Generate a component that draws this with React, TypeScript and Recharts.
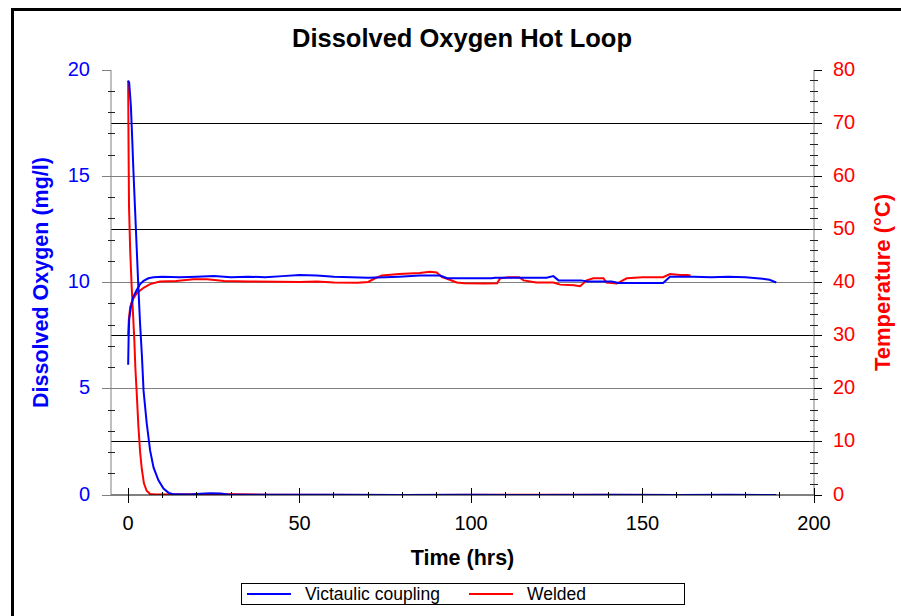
import React from 'react';
import { ComposedChart, Line, XAxis, YAxis, ReferenceLine, Legend, Label } from 'recharts';

const BLUE = '#0000FF';
const RED = '#FF0000';
const GRAY = '#808080';
const FONT = '"Liberation Sans", Arial, Helvetica, sans-serif';

const TITLE = 'Dissolved Oxygen Hot Loop';
const legendNames = ['Victaulic coupling', 'Welded'];

// Time ticks (hrs)
const timeTicks = [0, 10, 20, 30, 40, 50, 60, 70, 80, 90, 100, 110, 120, 130, 140, 150, 160, 170, 180, 190, 200];
const timeLabels = [0, 50, 100, 150, 200];
// Dissolved oxygen ticks (mg/l)
const doTicks = [0, 1, 2, 3, 4, 5, 6, 7, 8, 9, 10, 11, 12, 13, 14, 15, 16, 17, 18, 19, 20];
const doLabels = [0, 5, 10, 15, 20];
// Temperature ticks (°C)
const tempTicks = [0, 2, 4, 6, 8, 10, 12, 14, 16, 18, 20, 22, 24, 26, 28, 30, 32, 34, 36, 38, 40, 42, 44, 46, 48, 50, 52, 54, 56, 58, 60, 62, 64, 66, 68, 70, 72, 74, 76, 78, 80];
const tempLabels = [0, 10, 20, 30, 40, 50, 60, 70, 80];
// Horizontal grid lines (left axis units)
const blackGrid = [2.5, 7.5, 12.5, 17.5];
const grayGrid = [5, 10, 15];

// Victaulic coupling - dissolved oxygen (mg/l)
const victaulicDO = [
  { t: 0, v: 19.5 }, { t: 0.3, v: 19.4 }, { t: 0.8, v: 18.3 }, { t: 1.2, v: 16.7 }, { t: 1.5, v: 15.4 },
  { t: 2.0, v: 13.5 }, { t: 2.5, v: 11.6 }, { t: 3.0, v: 9.7 }, { t: 3.5, v: 8.0 }, { t: 4.0, v: 6.6 },
  { t: 4.5, v: 4.9 }, { t: 5.4, v: 3.4 }, { t: 6.4, v: 2.1 }, { t: 7.4, v: 1.3 }, { t: 8.8, v: 0.7 },
  { t: 10.3, v: 0.3 }, { t: 11.8, v: 0.1 }, { t: 13.5, v: 0.03 }, { t: 18, v: 0.02 }, { t: 21, v: 0.06 },
  { t: 24, v: 0.08 }, { t: 27, v: 0.07 }, { t: 29, v: 0.02 }, { t: 40, v: 0.01 }, { t: 60, v: 0.01 },
  { t: 80, v: 0.0 }, { t: 100, v: 0.01 }, { t: 120, v: 0.0 }, { t: 140, v: 0.01 }, { t: 160, v: 0.0 },
  { t: 175, v: 0.01 }, { t: 189, v: 0.0 },
];

// Welded - dissolved oxygen (mg/l)
const weldedDO = [
  { t: 0, v: 19.5 }, { t: 0.1, v: 16.8 }, { t: 0.25, v: 13.6 }, { t: 0.6, v: 11.5 }, { t: 1.0, v: 9.9 },
  { t: 1.4, v: 8.6 }, { t: 1.8, v: 7.3 }, { t: 2.1, v: 6.0 }, { t: 2.5, v: 4.8 }, { t: 3.0, v: 3.2 },
  { t: 3.5, v: 2.0 }, { t: 4.0, v: 1.2 }, { t: 4.6, v: 0.55 }, { t: 5.4, v: 0.2 }, { t: 6.4, v: 0.05 },
  { t: 8, v: 0.02 }, { t: 20, v: 0.04 }, { t: 26, v: 0.05 }, { t: 40, v: 0.01 }, { t: 80, v: 0.0 },
  { t: 120, v: 0.01 }, { t: 164, v: 0.0 },
];

// Victaulic coupling - temperature (°C)
const victaulicTemp = [
  { t: 0, v: 24.5 }, { t: 0.15, v: 30 }, { t: 0.3, v: 33 }, { t: 0.8, v: 35.4 }, { t: 1.5, v: 37.3 },
  { t: 2.5, v: 38.6 }, { t: 3.5, v: 39.7 }, { t: 4.5, v: 40.3 }, { t: 5.9, v: 40.8 }, { t: 7.4, v: 41.0 },
  { t: 10, v: 41.1 }, { t: 15, v: 41.0 }, { t: 20, v: 41.1 }, { t: 25, v: 41.2 }, { t: 30, v: 41.0 },
  { t: 35, v: 41.1 }, { t: 40, v: 41.0 }, { t: 45, v: 41.2 }, { t: 50, v: 41.4 }, { t: 55, v: 41.3 },
  { t: 60, v: 41.1 }, { t: 65, v: 41.0 }, { t: 70, v: 40.9 }, { t: 75, v: 41.0 }, { t: 79, v: 41.1 },
  { t: 85, v: 41.3 }, { t: 91, v: 41.3 }, { t: 93, v: 40.8 }, { t: 100, v: 40.8 }, { t: 106, v: 40.8 },
  { t: 107, v: 40.9 }, { t: 115, v: 40.9 }, { t: 122, v: 40.9 }, { t: 124, v: 41.2 }, { t: 125.5, v: 40.4 },
  { t: 132, v: 40.4 }, { t: 134, v: 40.2 }, { t: 141, v: 40.2 }, { t: 143, v: 39.9 }, { t: 150, v: 39.9 },
  { t: 156, v: 39.9 }, { t: 158, v: 41.1 }, { t: 165, v: 41.1 }, { t: 170, v: 41.0 }, { t: 175, v: 41.1 },
  { t: 180, v: 41.0 }, { t: 185, v: 40.7 }, { t: 187, v: 40.5 }, { t: 189, v: 40.0 },
];

// Welded - temperature (°C)
const weldedTemp = [
  { t: 0, v: 30 }, { t: 0.2, v: 33 }, { t: 0.6, v: 35.4 }, { t: 1.25, v: 36.7 }, { t: 2.5, v: 38.0 },
  { t: 4.5, v: 39.0 }, { t: 6.4, v: 39.7 }, { t: 9.3, v: 40.2 }, { t: 14, v: 40.3 }, { t: 19, v: 40.6 },
  { t: 23, v: 40.6 }, { t: 28, v: 40.3 }, { t: 35, v: 40.2 }, { t: 44, v: 40.15 }, { t: 50, v: 40.1 },
  { t: 55, v: 40.2 }, { t: 60, v: 40.0 }, { t: 67, v: 39.95 }, { t: 70, v: 40.1 }, { t: 72, v: 40.8 },
  { t: 74, v: 41.3 }, { t: 79, v: 41.6 }, { t: 85, v: 41.8 }, { t: 88, v: 42.0 }, { t: 90, v: 41.9 },
  { t: 91.5, v: 41.0 }, { t: 93, v: 40.7 }, { t: 95.8, v: 40.0 }, { t: 98, v: 39.85 }, { t: 104, v: 39.8 },
  { t: 107.6, v: 39.85 }, { t: 108.5, v: 40.8 }, { t: 111, v: 41.0 }, { t: 114, v: 41.0 }, { t: 115.3, v: 40.4 },
  { t: 119, v: 40.0 }, { t: 124, v: 40.0 }, { t: 126, v: 39.6 }, { t: 130, v: 39.5 }, { t: 131.8, v: 39.3 },
  { t: 133.7, v: 40.4 }, { t: 135.6, v: 40.8 }, { t: 138.6, v: 40.8 }, { t: 139.5, v: 40.0 }, { t: 142.5, v: 39.8 },
  { t: 145.4, v: 40.8 }, { t: 150, v: 41.0 }, { t: 156, v: 41.0 }, { t: 158, v: 41.6 }, { t: 161, v: 41.4 },
  { t: 163, v: 41.4 }, { t: 164, v: 41.3 },
];

const TICK_FONT = 20;

const LeftTick = (props: any) => {
  const { x, y, payload } = props;
  const v = payload.value;
  const major = doLabels.includes(v);
  return (
    <g>
      {major ? (
        <line x1={x - 9} x2={x} y1={y} y2={y} stroke={GRAY} shapeRendering="crispEdges" />
      ) : (
        <line x1={x - 3} x2={x + 4} y1={y} y2={y} stroke="#222" shapeRendering="crispEdges" />
      )}
      {major && (
        <text x={x - 21} y={y + 5.5} textAnchor="end" fill={BLUE} fontSize={TICK_FONT}>{v}</text>
      )}
    </g>
  );
};

const RightTick = (props: any) => {
  const { x, y, payload } = props;
  const v = payload.value;
  const major = tempLabels.includes(v);
  return (
    <g>
      {major ? (
        <line x1={x} x2={x + 8} y1={y} y2={y} stroke="#000" shapeRendering="crispEdges" />
      ) : (
        <line x1={x - 4} x2={x + 4} y1={y} y2={y} stroke="#222" shapeRendering="crispEdges" />
      )}
      {major && (
        <text x={x + 19} y={y + 5.5} textAnchor="start" fill={RED} fontSize={TICK_FONT}>{v}</text>
      )}
    </g>
  );
};

const BottomTick = (props: any) => {
  const { x, y, payload } = props;
  const v = payload.value;
  const major = timeLabels.includes(v);
  return (
    <g>
      {major ? (
        <line x1={x} x2={x} y1={y - 7} y2={y + 8} stroke="#000" shapeRendering="crispEdges" />
      ) : (
        <line x1={x} x2={x} y1={y - 3} y2={y + 3} stroke="#000" shapeRendering="crispEdges" />
      )}
      {major && (
        <text x={x} y={y + 35} textAnchor="middle" fill="#000" fontSize={TICK_FONT}>{v}</text>
      )}
    </g>
  );
};

const TopTick = (props: any) => {
  const { x, y } = props;
  return <line x1={x} x2={x} y1={y} y2={y + 4} stroke="#333" shapeRendering="crispEdges" />;
};

const renderLegend = (props: any) => {
  const payload: any[] = (props.payload || []).filter((e: any) => legendNames.includes(e.value));
  const ordered = legendNames
    .map((n) => payload.find((e: any) => e.value === n))
    .filter(Boolean);
  const lefts = [5, 227];
  return (
    <div
      style={{
        position: 'relative',
        width: 444,
        height: 22,
        border: '1px solid #000',
        background: '#fff',
        fontFamily: FONT,
        fontSize: 17.5,
        color: '#000',
        boxSizing: 'border-box',
      }}
    >
      {ordered.map((entry: any, i: number) => (
        <div
          key={entry.value}
          style={{ position: 'absolute', left: lefts[i] ?? 5, top: 0, height: 20, display: 'flex', alignItems: 'center', whiteSpace: 'nowrap' }}
        >
          <span style={{ display: 'inline-block', width: 44, height: 2, background: entry.color }} />
          <span style={{ marginLeft: 14 }}>{entry.value}</span>
        </div>
      ))}
    </div>
  );
};

export default function App() {
  return (
    <div
      style={{
        position: 'absolute',
        left: 0,
        top: 0,
        width: 901,
        height: 616,
        overflow: 'hidden',
        background: '#fff',
        fontFamily: FONT,
      }}
    >
      <div
        style={{
          position: 'absolute',
          left: 11,
          top: 8,
          width: 1000,
          height: 1000,
          border: '3px solid #000',
          boxSizing: 'border-box',
        }}
      />
      <div
        style={{
          position: 'absolute',
          left: 262,
          top: 26,
          width: 400,
          textAlign: 'center',
          fontSize: 25.5,
          lineHeight: '25px',
          fontWeight: 'bold',
          color: '#000',
          whiteSpace: 'nowrap',
        }}
      >
        {TITLE}
      </div>
      <div style={{ position: 'absolute', left: 0, top: 0 }}>
        <ComposedChart width={901} height={616} margin={{ top: 70, right: 7, bottom: 81, left: 21 }}>
          <XAxis
            xAxisId="top"
            orientation="top"
            type="number"
            domain={[-5, 200]}
            allowDataOverflow
            ticks={timeTicks}
            interval={0}
            height={0}
            tickSize={0}
            tickMargin={0}
            axisLine={{ stroke: GRAY }}
            tickLine={false}
            tick={TopTick}
          />
          <XAxis
            xAxisId="bottom"
            dataKey="t"
            type="number"
            domain={[-5, 200]}
            allowDataOverflow
            ticks={timeTicks}
            interval={0}
            height={40}
            tickSize={0}
            tickMargin={0}
            axisLine={{ stroke: '#000' }}
            tickLine={false}
            tick={BottomTick}
          >
            <Label
              value="Time (hrs)"
              position="bottom"
              offset={15}
              style={{ fill: '#000', fontWeight: 'bold', fontSize: 21.5 }}
            />
          </XAxis>
          <YAxis
            yAxisId="left"
            type="number"
            domain={[0, 20]}
            allowDataOverflow
            ticks={doTicks}
            interval={0}
            width={90}
            tickSize={0}
            tickMargin={0}
            axisLine={{ stroke: GRAY }}
            tickLine={false}
            tick={LeftTick}
          >
            <Label
              value="Dissolved Oxygen (mg/l)"
              angle={-90}
              position="insideLeft"
              offset={19.5}
              style={{ textAnchor: 'middle', fill: BLUE, fontWeight: 'bold', fontSize: 21.5 }}
            />
          </YAxis>
          <YAxis
            yAxisId="right"
            orientation="right"
            type="number"
            domain={[0, 80]}
            allowDataOverflow
            ticks={tempTicks}
            interval={0}
            width={80}
            tickSize={0}
            tickMargin={0}
            axisLine={{ stroke: GRAY }}
            tickLine={false}
            tick={RightTick}
          >
            <Label
              value="Temperature (°C)"
              angle={-90}
              position="insideRight"
              offset={12}
              style={{ textAnchor: 'middle', fill: RED, fontWeight: 'bold', fontSize: 22 }}
            />
          </YAxis>

          {grayGrid.map((g) => (
            <ReferenceLine key={'g' + g} xAxisId="bottom" yAxisId="left" y={g} stroke={GRAY} strokeWidth={1} shapeRendering="crispEdges" />
          ))}
          {blackGrid.map((g) => (
            <ReferenceLine key={'b' + g} xAxisId="bottom" yAxisId="left" y={g} stroke="#000" strokeWidth={1} shapeRendering="crispEdges" />
          ))}

          <Line
            xAxisId="bottom"
            yAxisId="left"
            data={weldedDO}
            dataKey="v"
            name="Welded"
            stroke={RED}
            strokeWidth={2}
            dot={false}
            isAnimationActive={false}
          />
          <Line
            xAxisId="bottom"
            yAxisId="right"
            data={weldedTemp}
            dataKey="v"
            name="Welded temperature"
            legendType="none"
            stroke={RED}
            strokeWidth={2}
            dot={false}
            isAnimationActive={false}
          />
          <Line
            xAxisId="bottom"
            yAxisId="left"
            data={victaulicDO}
            dataKey="v"
            name="Victaulic coupling"
            stroke={BLUE}
            strokeWidth={2}
            dot={false}
            isAnimationActive={false}
          />
          <Line
            xAxisId="bottom"
            yAxisId="right"
            data={victaulicTemp}
            dataKey="v"
            name="Victaulic coupling temperature"
            legendType="none"
            stroke={BLUE}
            strokeWidth={2}
            dot={false}
            isAnimationActive={false}
          />

          <Legend
            layout="horizontal"
            verticalAlign="middle"
            align="center"
            content={renderLegend}
            wrapperStyle={{ left: 241, top: 583, width: 444, height: 22 }}
          />
        </ComposedChart>
      </div>
    </div>
  );
}
